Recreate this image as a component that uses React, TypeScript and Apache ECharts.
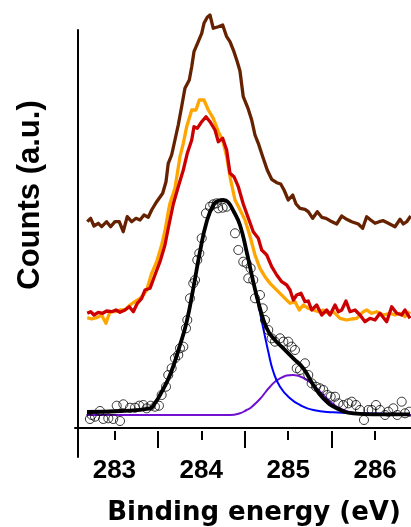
import React, { useEffect, useRef } from "react";
import * as echarts from "echarts";

const xLabelTicks = [283, 284, 285, 286];
const xHalfTicks = [283.5, 284.5, 285.5];

const brownX = [282.688,282.727,282.765,282.815,282.854,282.911,282.957,283.007,283.056,283.102,283.148,283.199,283.249,283.295,283.341,283.390,283.429,283.487,283.556,283.594,283.620,283.659,283.697,283.735,283.774,283.812,283.862,283.890,283.916,283.965,284.005,284.031,284.069,284.100,284.138,284.196,284.246,284.292,284.330,284.376,284.414,284.445,284.483,284.541,284.580,284.618,284.656,284.707,284.759,284.810,284.868,284.914,284.952,285.001,285.052,285.090,285.136,285.193,285.231,285.282,285.335,285.386,285.435,285.481,285.558,285.616,285.673,285.731,285.807,285.857,285.903,285.949,285.999,286.048,286.094,286.152,286.229,286.287,286.325,286.364,286.410];
const brownY = [206.3,209.7,202,204.7,201.3,206.3,201.3,206.3,206.3,196.3,211.3,206.3,209.7,208,213,210.7,218,226.3,234.7,246.3,264.7,273,288,303,321.3,339.7,348,361.3,376.3,386.3,394.7,404.7,410.7,413,399.7,401.3,403,391.3,386.3,376.3,366.3,357,331.3,318.8,308,293,284.7,271.3,258,248.7,245.3,244,238,228,233,224,219.7,218.7,216.3,209.7,216.3,210.7,209.7,207.3,204,212,208.7,206.3,204,199.7,211.3,208,204.7,206.3,207.3,204.7,201.3,208.7,204,206.3,212];

const orangeX = [282.688,282.739,282.796,282.854,282.903,282.949,283.007,283.065,283.122,283.180,283.237,283.295,283.333,283.372,283.429,283.487,283.544,283.582,283.620,283.640,283.697,283.755,283.793,283.832,283.890,283.939,283.977,284.031,284.081,284.138,284.196,284.246,284.292,284.338,284.388,284.437,284.503,284.560,284.618,284.675,284.733,284.791,284.848,284.906,284.963,285.021,285.078,285.128,285.174,285.231,285.289,285.346,285.404,285.461,285.519,285.596,285.673,285.731,285.788,285.864,285.903,285.961,286.018,286.094,286.171,286.229,286.287,286.344,286.402];
const orangeY = [110.3,109,110.3,113,104.7,116.3,116.3,118,118,123,126.3,129.7,133,138,154.7,166.3,183,197,216.3,224.7,239.7,271.3,284.7,301.3,318,318,328,328,318,309.7,296.3,288,271.3,248,228,219.7,208,192,173,159.7,151.3,144.7,139.7,134.7,129.7,124.7,126.3,118,123,119.7,118,116.3,118,114.7,116.3,109.7,108,109,109.7,116.3,118,114.7,116.3,113,114.7,113,114.7,111.3,116.3];

const redX = [282.688,282.727,282.765,282.815,282.865,282.911,282.969,283.018,283.065,283.122,283.172,283.218,283.264,283.314,283.352,283.410,283.467,283.525,283.582,283.620,283.678,283.735,283.793,283.839,283.890,283.916,283.954,284.005,284.054,284.100,284.158,284.196,284.246,284.292,284.330,284.376,284.426,284.483,284.541,284.598,284.656,284.695,284.753,284.810,284.868,284.925,284.983,285.021,285.059,285.098,285.147,285.193,285.231,285.270,285.328,285.386,285.443,285.481,285.539,285.577,285.616,285.665,285.711,285.769,285.826,285.884,285.941,285.999,286.056,286.133,286.191,286.249,286.306,286.344,286.402];
const redY = [114.7,116.3,113,115.7,114.7,117,116.3,118,115.7,118,121.3,116.3,124.7,129.7,138,139.7,153,166.3,183,199.7,224,241.3,258,274.7,288,301.3,299.7,306.3,311.3,306.3,298,286.3,289.7,278,254.7,251.3,241.3,224,210,196.3,189.7,178,173,161.3,153,146.3,143,138,128,133,134.7,126.3,127,118,123,113,118,113,123,116.3,118,127,116.3,118,113,106.3,109.7,108,114.7,106.3,121.3,114.7,113,118,109.7];

const measuredX = [282.719,282.739,282.777,282.834,282.872,282.930,282.987,283.027,283.065,283.103,283.180,283.237,283.287,283.333,283.372,283.418,283.467,283.513,283.544,283.594,283.620,283.659,283.697,283.735,283.755,283.793,283.824,283.839,283.870,283.908,283.928,283.954,283.977,284.005,284.054,284.100,284.138,284.177,284.196,284.246,284.292,284.388,284.426,284.483,284.522,284.541,284.568,284.598,284.618,284.675,284.707,284.733,284.771,284.810,284.848,284.906,284.944,285.001,285.040,285.078,285.098,285.136,285.193,285.231,285.270,285.320,285.366,285.404,285.450,285.489,285.539,285.577,285.634,285.692,285.731,285.780,285.826,285.872,285.922,285.961,286.010,286.056,286.114,286.152,286.209,286.255,286.306,286.344,286.394];
const measuredY = [9,13,11.3,17,9,9.7,9,22.3,7,23.7,20.3,20.3,22.3,23,19.7,22.3,21.3,22.3,33,41.3,53,59.7,69.7,73,79.7,81.3,99.7,108,129.7,144.7,148,168,174.7,189.7,214.7,221.3,223.7,224.7,219.7,220.3,221.3,194.7,178,166.3,164.7,149.7,159.7,148,129.7,133,119.7,108,98,89.7,86.3,89.7,86.3,86.3,81.3,78,59.7,58,64.7,53,44.7,41.3,39.7,38,33,31.3,31.3,24.7,23,24.7,26.3,23,18,8,18,18,23,18,13,16.3,19.7,13,26.3,14.7,16.3];

const fitX = [282.685,283.065,283.410,283.467,283.525,283.640,283.755,283.832,283.908,283.985,284.062,284.138,284.192,284.253,284.307,284.376,284.445,284.522,284.598,284.675,284.753,284.829,284.944,285.059,285.174,285.289,285.404,285.558,285.749,285.979,286.402];
const fitY = [16,17,19.7,25,33,53,83,106.3,139.7,176.3,206.3,223,227,228,226,216,203,176.3,146.3,119.7,99.7,89.7,79.7,69.7,59.7,43,29.7,19.7,14.7,13.7,13.7];

const peak1X = [282.685,283.065,283.410,283.467,283.525,283.640,283.755,283.832,283.908,283.985,284.062,284.138,284.192,284.253,284.307,284.376,284.445,284.522,284.598,284.656,284.713,284.771,284.829,284.906,285.021,285.136,285.289,285.519,285.788,286.402];
const peak1Y = [16,17,19.7,25,33,53,83,106.3,139.7,176.3,206.3,223,227,228,226,216,202,174,145,123,99.7,76.3,56.3,41.3,29.7,23,18,15.7,14.7,14];

const peak2X = [282.681,283.985,284.330,284.445,284.522,284.560,284.675,284.791,284.906,285.059,285.213,285.328,285.443,285.558,285.711,285.903,286.413];
const peak2Y = [13,13,13,14.7,18,19.7,29,41.3,49.7,53,48,39.7,29.7,21.3,15.7,13.7,13];

const zip = (xs: number[], ys: number[]) => xs.map((x, i) => [x, ys[i]]);

const X_MIN = 282.547;
const X_MAX = 286.413;

export default function App() {
  const ref = useRef<HTMLDivElement>(null);
  useEffect(() => {
    if (!ref.current) return;
    const chart = echarts.init(ref.current, null, { renderer: "svg" });
    const font = "'Liberation Sans', Arial, Helvetica, sans-serif";
    const wideFont = "'DejaVu Sans', 'Liberation Sans', Arial, sans-serif";
    const line = (name: string, xs: number[], ys: number[], color: string, width: number, smooth = false) => ({
      name,
      type: "line",
      xAxisIndex: 0,
      yAxisIndex: 0,
      data: zip(xs, ys),
      showSymbol: false,
      symbol: "none",
      smooth,
      clip: false,
      lineStyle: { color, width, join: "round" },
      itemStyle: { color },
      z: 2,
    });
    chart.setOption({
      animation: false,
      grid: [
        { left: 75, right: 0, top: 0, bottom: 99, outerBoundsMode: "none", containLabel: false },
        { left: 75, right: 0, top: 30, bottom: 70, outerBoundsMode: "none", containLabel: false },
      ],
      graphic: [
        {
          type: "line",
          z: 100,
          shape: { x1: 75, y1: 428, x2: 411, y2: 428 },
          style: { stroke: "#000", lineWidth: 2 },
        },
      ],
      xAxis: [
        {
          type: "value",
          gridIndex: 0,
          position: "bottom",
          min: X_MIN,
          max: X_MAX,
          name: "Binding energy (eV)",
          nameLocation: "middle",
          nameGap: 70,
          nameTextStyle: { fontSize: 26, fontWeight: "bold", color: "#000", fontFamily: wideFont, padding: [0, 0, 0, 22] },
          axisLine: { show: true, onZero: false, lineStyle: { color: "#000", width: 2 } },
          axisTick: { show: false },
          axisLabel: {
            customValues: xLabelTicks,
            formatter: (v: number) => String(Math.round(v)),
            fontSize: 26,
            fontWeight: "bold",
            color: "#000",
            fontFamily: font,
            margin: 28,
          },
          splitLine: { show: false },
        },
        {
          type: "value",
          gridIndex: 0,
          position: "bottom",
          min: X_MIN,
          max: X_MAX,
          offset: 3,
          axisLine: { show: false, onZero: false },
          axisTick: { show: true, customValues: xLabelTicks, length: 9, lineStyle: { color: "#000", width: 2 } },
          axisLabel: { show: false },
          splitLine: { show: false },
        },
        {
          type: "value",
          gridIndex: 0,
          position: "bottom",
          min: X_MIN,
          max: X_MAX,
          offset: 3,
          axisLine: { show: false, onZero: false },
          axisTick: { show: true, customValues: xHalfTicks, length: 17, lineStyle: { color: "#000", width: 2 } },
          axisLabel: { show: false },
          splitLine: { show: false },
        },
        {
          type: "value",
          gridIndex: 1,
          position: "bottom",
          min: X_MIN,
          max: X_MAX,
          show: false,
        },
      ],
      yAxis: [
        {
          type: "value",
          gridIndex: 0,
          min: 0,
          max: 428,
          show: false,
          axisLine: { show: false },
          splitLine: { show: false },
        },
        {
          type: "value",
          gridIndex: 1,
          min: 0,
          max: 1,
          offset: -3,
          name: "Counts (a.u.)",
          nameLocation: "middle",
          nameRotate: 90,
          nameGap: 34,
          nameTextStyle: { fontSize: 31, fontWeight: "bold", color: "#000", fontFamily: font, padding: [0, 0, 0, 97] },
          axisLine: { show: true, onZero: false, lineStyle: { color: "#000", width: 2 } },
          axisTick: { show: false },
          axisLabel: { show: false },
          splitLine: { show: false },
        },
      ],
      series: [
        line("Sample A", orangeX, orangeY, "#FFA500", 3.3),
        line("Sample B", redX, redY, "#CC0000", 3.3),
        line("Sample C", brownX, brownY, "#662200", 3.3),
        line("Component 2", peak2X, peak2Y, "#7010D0", 2, true),
        line("Component 1", peak1X, peak1Y, "#0000FF", 2, true),
        {
          name: "Measured",
          type: "scatter",
          xAxisIndex: 0,
          yAxisIndex: 0,
          data: zip(measuredX, measuredY),
          symbol: "circle",
          symbolSize: 9,
          clip: false,
          itemStyle: { color: "rgba(255,255,255,0)", borderColor: "#000", borderWidth: 1 },
          z: 3,
        },
        { ...line("Fit", fitX, fitY, "#000000", 3.8, true), z: 4 },
      ],
    });
    return () => chart.dispose();
  }, []);
  return <div ref={ref} style={{ position: "fixed", left: 0, top: 0, width: 411, height: 527 }} />;
}
